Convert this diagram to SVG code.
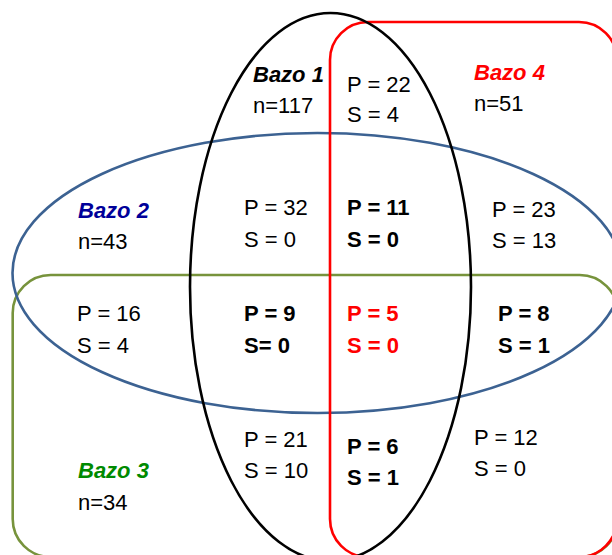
<svg xmlns="http://www.w3.org/2000/svg" width="612" height="555" viewBox="0 0 612 555">
<style>
.shape{fill:none;stroke-width:2.6}
text{font-family:"Liberation Sans",Arial,sans-serif;font-size:22px;fill:#000}
.b{font-weight:bold}
.t{font-weight:bold;font-style:italic}
</style>
<rect width="612" height="555" fill="#fff"/>
<g id="sets">
<rect id="bazo3-shape" class="shape" x="12.7" y="275" width="605" height="282" rx="38" ry="38" stroke="#77933C"/>
<ellipse id="bazo2-shape" class="shape" cx="317.5" cy="273" rx="305" ry="140" stroke="#3C6292"/>
<rect id="bazo4-shape" class="shape" x="330" y="22" width="287" height="535" rx="38" ry="38" stroke="#FF0000"/>
<ellipse id="bazo1-shape" class="shape" cx="330.5" cy="287" rx="140.5" ry="274" stroke="#000"/>
</g>
<g id="bazo1"><text class="t" x="253" y="82">Bazo 1</text><text x="253" y="113">n=117</text></g>
<g id="bazo4"><text class="t" x="474" y="80" fill="#FF0000" style="fill:#FF0000">Bazo 4</text><text x="474" y="111">n=51</text></g>
<g id="bazo2"><text class="t" x="78" y="218" style="fill:#000099">Bazo 2</text><text x="78" y="249">n=43</text></g>
<g id="bazo3"><text class="t" x="78" y="478" style="fill:#008A00">Bazo 3</text><text x="78" y="510">n=34</text></g>
<g id="r14"><text x="347" y="92">P = 22</text><text x="347" y="122">S = 4</text></g>
<g id="r12"><text x="244" y="215">P = 32</text><text x="244" y="247">S = 0</text></g>
<g id="r124"><text class="b" x="347" y="215">P = 11</text><text class="b" x="347" y="247">S = 0</text></g>
<g id="r24"><text x="492" y="217">P = 23</text><text x="492" y="248">S = 13</text></g>
<g id="r23"><text x="77" y="321">P = 16</text><text x="77" y="353">S = 4</text></g>
<g id="r123"><text class="b" x="244" y="321">P = 9</text><text class="b" x="244" y="353">S= 0</text></g>
<g id="r1234"><text class="b" x="347" y="321" style="fill:#FF0000">P = 5</text><text class="b" x="347" y="353" style="fill:#FF0000">S = 0</text></g>
<g id="r234"><text class="b" x="498" y="321">P = 8</text><text class="b" x="498" y="353">S = 1</text></g>
<g id="r13"><text x="244" y="447">P = 21</text><text x="244" y="478">S = 10</text></g>
<g id="r134"><text class="b" x="347" y="454">P = 6</text><text class="b" x="347" y="485">S = 1</text></g>
<g id="r34"><text x="474" y="445">P = 12</text><text x="474" y="476">S = 0</text></g>
</svg>
